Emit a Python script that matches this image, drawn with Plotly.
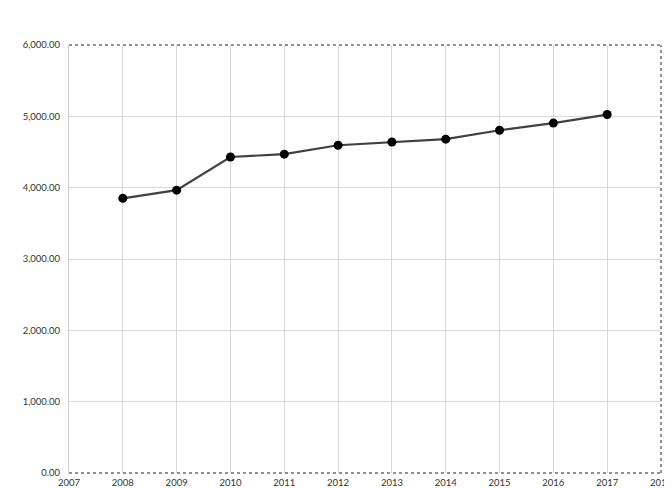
import plotly.graph_objects as go

years = [2008, 2009, 2010, 2011, 2012, 2013, 2014, 2015, 2016, 2017]
values = [3850, 3965, 4430, 4470, 4595, 4640, 4680, 4805, 4905, 5025]

fig = go.Figure(go.Scatter(
    x=years, y=values, mode="lines+markers",
    line=dict(color="#404040", width=2.2),
    marker=dict(color="black", size=9),
))
fig.update_layout(
    width=672, height=488, margin=dict(l=61, r=19, t=37, b=23),
    paper_bgcolor="white", plot_bgcolor="white", showlegend=False,
    font=dict(family="Lato, sans-serif", size=9.5, color="#333"),
    xaxis=dict(range=[2007, 2018], tickmode="linear", dtick=1, showgrid=True,
               gridcolor="#d9d9d9", zeroline=False, showline=False, ticks="",
               automargin=False, ticklabelstandoff=2),
    yaxis=dict(range=[0, 6000], dtick=1000, tickformat=",.2f", showgrid=True,
               gridcolor="#d9d9d9", zeroline=False, showline=True, linecolor="#cccccc",
               ticks="", automargin=False, ticklabelstandoff=6),
    shapes=[
        dict(type="line", xref="paper", yref="paper", x0=0, x1=1, y0=1, y1=1,
             line=dict(color="#222", width=1, dash="dot")),
        dict(type="line", xref="paper", yref="paper", x0=1, x1=1, y0=0, y1=1,
             line=dict(color="#222", width=1, dash="dot")),
        dict(type="line", xref="paper", yref="paper", x0=0, x1=1, y0=0, y1=0,
             line=dict(color="#222", width=1, dash="dot")),
    ],
)
fig.write_html("out.html")
